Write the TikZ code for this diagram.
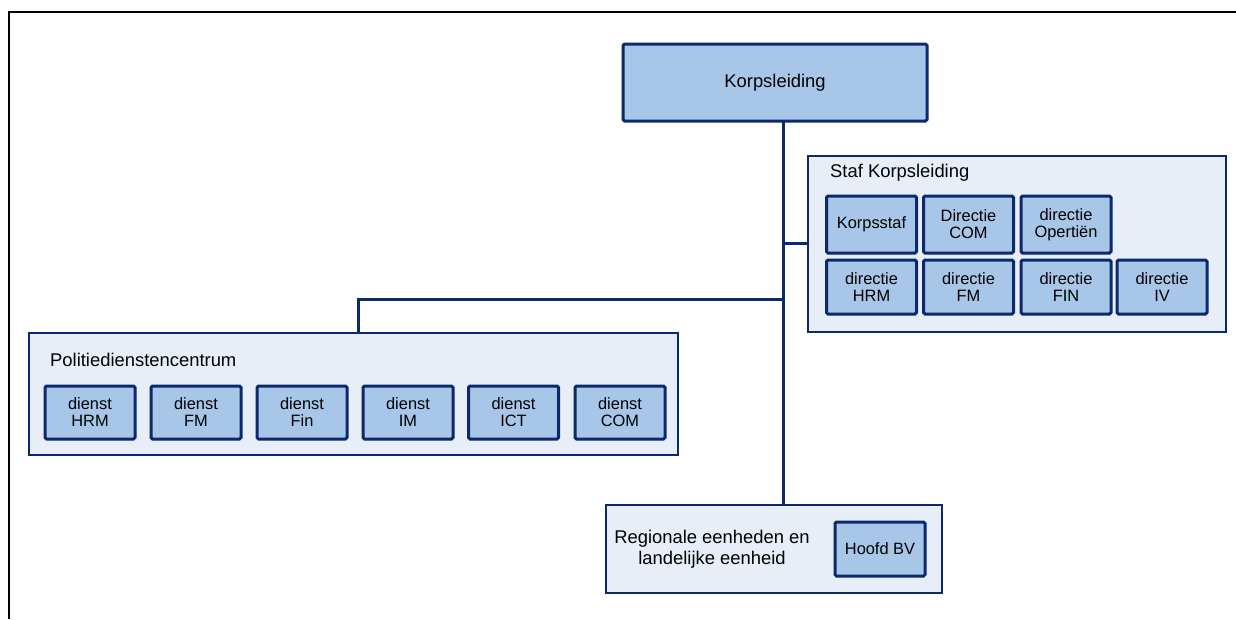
\documentclass[tikz,border=0pt]{standalone}
\usepackage{fontspec}
\setmainfont{Liberation Sans}
\definecolor{navy}{HTML}{0B2A6B}
\definecolor{boxfill}{HTML}{A8C6E8}
\definecolor{groupfill}{HTML}{E7EEF8}
\begin{document}
\begin{tikzpicture}[x=1pt,y=-1pt,
  unitbox/.style={draw=navy,fill=boxfill,line width=3pt,rounded corners=1.5pt,
    minimum width=90pt,minimum height=55pt,inner sep=0pt,align=center,
    font=\fontsize{16.4}{17}\selectfont},
  groupbox/.style={draw=navy,fill=groupfill,line width=2.5pt,inner sep=0pt},
  grouptitle/.style={anchor=west,inner sep=0pt,font=\fontsize{18.4}{21.5}\selectfont},
  conn/.style={draw=navy,line width=3pt}]
\useasboundingbox (0,0) rectangle (1236,619);
\draw[line width=2.5pt] (9,619) -- (9,12) -- (1236,12);

% connectors (behind boxes)
\coordinate (t) at (783,121);
\coordinate (j1) at (783,243);
\coordinate (j2) at (783,299);
\coordinate (j3) at (358,299);
\coordinate (tb) at (783,505);
\draw[conn] (t) -- (tb);
\draw[conn] (j1) -- (808,243);
\draw[conn] (j2) -- (j3) -- (358,333);

% top
\node[unitbox,minimum width=304pt,minimum height=77pt,font=\fontsize{18.4}{21}\selectfont] (korps) at (775,82.5) {Korpsleiding};

% Staf Korpsleiding
\node[groupbox,minimum width=418pt,minimum height=176pt] (staf) at (1017,244) {};
\node[grouptitle] (staft) at (830,173) {Staf Korpsleiding};
\node[unitbox,minimum height=57pt] (ks) at (871.5,224.5) {Korpsstaf};
\node[unitbox,minimum height=57pt] (dcom) at (968.5,224.5) {Directie\\COM};
\node[unitbox,minimum height=57pt] (dop) at (1066,224.5) {directie\\Opertiën};
\node[unitbox,minimum height=54pt] (dhrm) at (871.5,287) {directie\\HRM};
\node[unitbox,minimum height=54pt] (dfm) at (968.5,287) {directie\\FM};
\node[unitbox,minimum height=54pt] (dfin) at (1066,287) {directie\\FIN};
\node[unitbox,minimum height=54pt] (div) at (1162,287) {directie\\IV};

% Politiedienstencentrum
\node[groupbox,minimum width=649pt,minimum height=122pt] (pol) at (353.5,394) {};
\node[grouptitle] (polt) at (50,360) {Politiedienstencentrum};
\node[unitbox,minimum height=53pt] (phrm) at (90,412.5) {dienst\\HRM};
\node[unitbox,minimum height=53pt] (pfm) at (196,412.5) {dienst\\FM};
\node[unitbox,minimum height=53pt] (pfin) at (302,412.5) {dienst\\Fin};
\node[unitbox,minimum height=53pt] (pim) at (408,412.5) {dienst\\IM};
\node[unitbox,minimum height=53pt] (pict) at (513.5,412.5) {dienst\\ICT};
\node[unitbox,minimum height=53pt] (pcom) at (620,412.5) {dienst\\COM};

% Regionale eenheden
\node[groupbox,minimum width=336pt,minimum height=88pt] (reg) at (774,549) {};
\node[inner sep=0pt,align=center,font=\fontsize{18.4}{21.5}\selectfont] (regt) at (712,549) {Regionale eenheden en\\landelijke eenheid};
\node[unitbox,minimum height=54pt] (hbv) at (880,549) {Hoofd BV};
\end{tikzpicture}
\end{document}
